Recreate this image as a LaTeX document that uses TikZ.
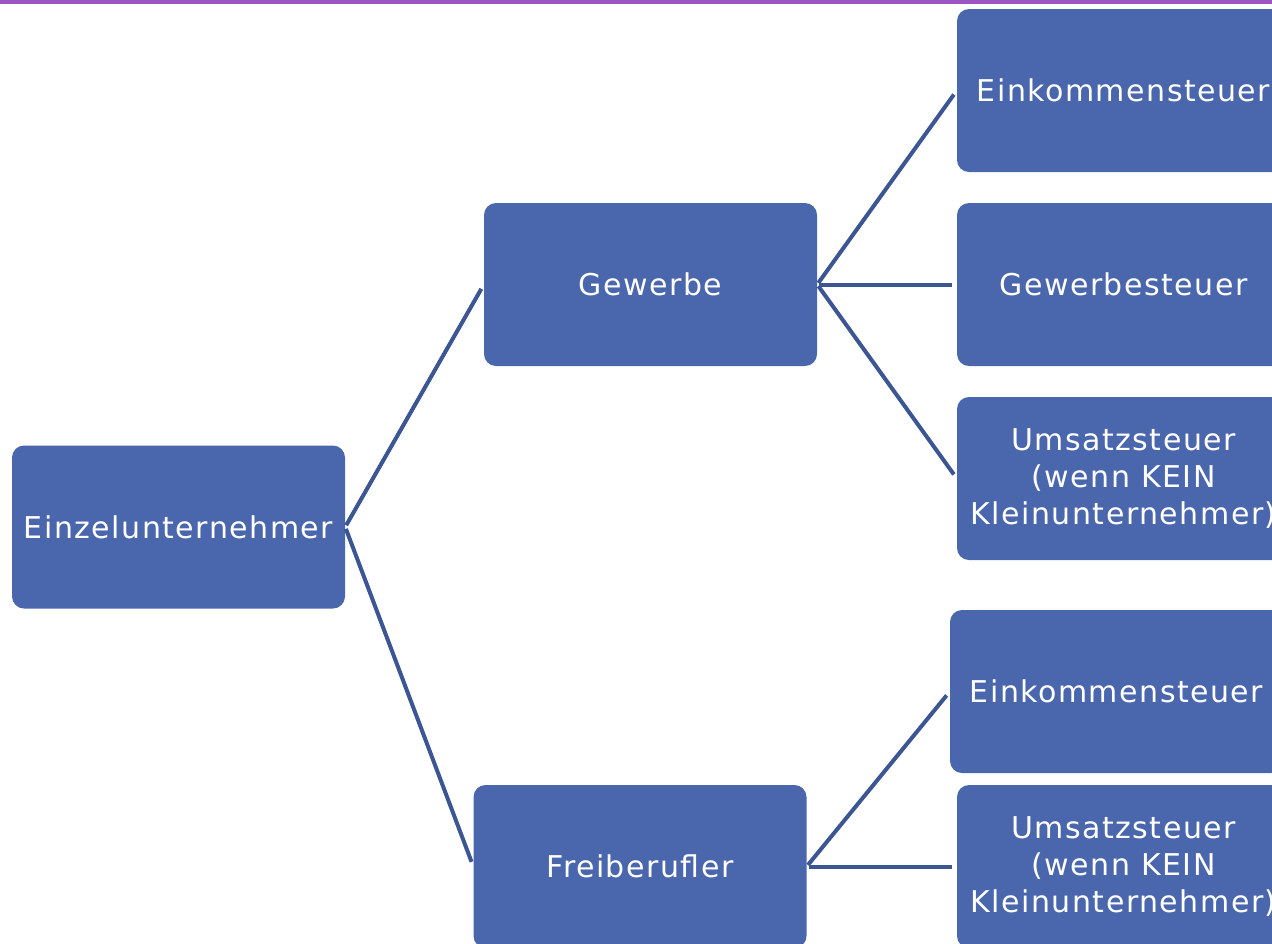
\documentclass[tikz,border=0pt]{standalone}
\usepackage{fontspec}
\setmainfont[LetterSpace=5.0]{DejaVu Sans}
\definecolor{boxblue}{HTML}{4A67AD}
\definecolor{lineblue}{HTML}{3C5593}
\definecolor{topbar}{HTML}{9B55C2}
\tikzset{
  box/.style={draw=none, fill=boxblue, rounded corners=12pt, minimum width=333pt, minimum height=163pt,
    text=white, align=center, inner sep=0pt, font=\fontsize{30}{37}\selectfont},
  link/.style={draw=lineblue, line width=4pt, shorten >=5pt, shorten <=2pt}
}
\begin{document}
\begin{tikzpicture}[x=1pt,y=-1pt]
\useasboundingbox (0,0) rectangle (1272,943);
\clip (0,0) rectangle (1272,943);
\fill[topbar] (0,0) rectangle (1272,4);
\node[box] (ez) at (178.5,527) {Einzelunternehmer};
\node[box] (gw) at (650.5,284.5) {Gewerbe};
\node[box] (fb) at (640,866.5) {Freiberufler};
\node[box] (e1) at (1123.5,90.5) {Einkommensteuer};
\node[box] (g1) at (1123.5,284.5) {Gewerbesteuer};
\node[box] (u1) at (1123.5,478.5) {Umsatzsteuer\\(wenn KEIN\\Kleinunternehmer)};
\node[box] (e2) at (1116.5,691.5) {Einkommensteuer};
\node[box] (u2) at (1123.5,866.5) {Umsatzsteuer\\(wenn KEIN\\Kleinunternehmer)};
\draw[link] (ez.east) -- (gw.west);
\draw[link] (ez.east) -- (fb.west);
\draw[link] (gw.east) -- (e1.west);
\draw[link] (gw.east) -- (g1.west);
\draw[link] (gw.east) -- (u1.west);
\draw[link] (fb.east) -- (e2.west);
\draw[link] (fb.east) -- (u2.west);
\end{tikzpicture}
\end{document}
